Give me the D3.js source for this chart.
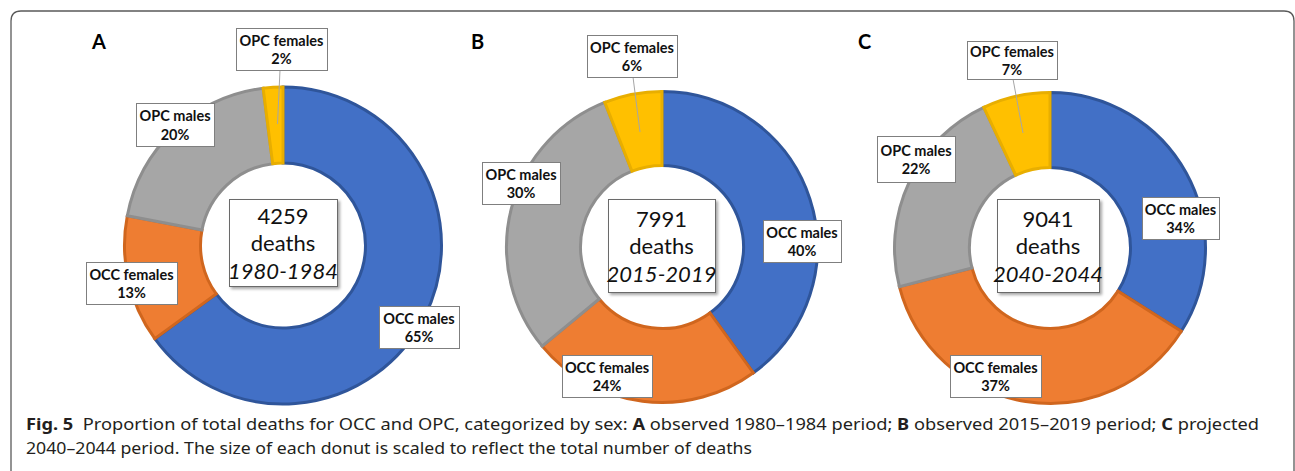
<!DOCTYPE html>
<html>
<head>
<meta charset="utf-8">
<script src="https://cdn.jsdelivr.net/npm/d3@7"></script>
<style>
  html, body { margin: 0; padding: 0; background: #fff; }
  svg { display: block; }
</style>
</head>
<body>
<svg id="chart" width="1295" height="471"></svg>
<script>
// ---------------- DATA ----------------
const categories = ["OCC males", "OCC females", "OPC males", "OPC females"];
const panelLetters = ["A", "B", "C"];
const periods = ["1980-1984", "2015-2019", "2040-2044"];
const totalDeaths = [4259, 7991, 9041];
const sharesA = [65, 13, 20, 2];
const sharesB = [40, 24, 30, 6];
const sharesC = [34, 37, 22, 7];
const shares = [sharesA, sharesB, sharesC];
const captionLine1 = [
  {t: "Fig. 5", b: true}, {t: "  Proportion of total deaths for OCC and OPC, categorized by sex: ", b: false},
  {t: "A", b: true}, {t: " observed 1980–1984 period; ", b: false},
  {t: "B", b: true}, {t: " observed 2015–2019 period; ", b: false},
  {t: "C", b: true}, {t: " projected", b: false}
];
const captionLine2 = "2040–2044 period. The size of each donut is scaled to reflect the total number of deaths";

// ---------------- LAYOUT / STYLE ----------------
const fills = ["#4270C6", "#EE7D32", "#A6A6A6", "#FFC000"];
const lights = ["#4A7DD6", "#F7893E", "#B3B3B3", "#FFCA1F"];
const edges = ["#2F559A", "#D0661E", "#8E8E8E", "#E8AE00"];

const panels = [
  {cx: 283, cy: 245.5, R: 160, r: 81, letter: [92, 49],
   center: [229, 199, 108, 87],
   boxes: [[379, 306, 80, 42], [86, 262, 91, 42], [136, 103, 78, 43], [236, 28, 91, 42]],
   leader: [[280, 70], [277.5, 124]]},
  {cx: 662, cy: 247, R: 157, r: 80, letter: [471, 49],
   center: [608, 199, 107, 93],
   boxes: [[763, 220, 78, 42], [562, 355, 90, 42], [482, 162, 78, 42], [587, 35, 90, 42]],
   leader: [[633, 77], [640, 132]]},
  {cx: 1050, cy: 248, R: 157, r: 79, letter: [858, 49],
   center: [997, 199, 102, 93],
   boxes: [[1142, 197, 77, 42], [950, 355, 91, 42], [877, 136, 78, 46], [967, 41, 90, 38]],
   leader: [[1013, 79], [1023, 133]]}
];

const svg = d3.select("#chart");
const defs = svg.append("defs");

// drop shadow for centre boxes
const f = defs.append("filter").attr("id", "shadow").attr("x", "-20%").attr("y", "-20%").attr("width", "150%").attr("height", "150%");
f.append("feDropShadow").attr("dx", 2).attr("dy", 2).attr("stdDeviation", 1.8)
  .attr("flood-color", "#000").attr("flood-opacity", 0.35);

// frame
svg.append("path")
  .attr("d", "M11,471 L11,21 Q11,11 21,11 L1284,11 Q1294,11 1294,21 L1294,471")
  .attr("fill", "none").attr("stroke", "#5a5a5a").attr("stroke-width", 1.3);

const pie = d3.pie().sort(null).value(d => d);

panels.forEach((p, i) => {
  const g = svg.append("g");
  // gradients
  fills.forEach((c, k) => {
    const gr = defs.append("radialGradient").attr("id", `g${i}_${k}`)
      .attr("gradientUnits", "userSpaceOnUse")
      .attr("cx", p.cx).attr("cy", p.cy).attr("r", p.R);
    const o0 = p.r / p.R;
    gr.append("stop").attr("offset", o0).attr("stop-color", c);
    gr.append("stop").attr("offset", o0 + (1 - o0) * 0.5).attr("stop-color", lights[k]);
    gr.append("stop").attr("offset", 1).attr("stop-color", c);
  });

  const arc = d3.arc().innerRadius(p.r + 1.5).outerRadius(p.R - 1.5);
  const arcs = pie(shares[i]);
  g.selectAll("path.slice").data(arcs).join("path")
    .attr("class", "slice")
    .attr("transform", `translate(${p.cx},${p.cy})`)
    .attr("d", arc)
    .attr("fill", (d, k) => `url(#g${i}_${k})`)
    .attr("stroke", (d, k) => edges[k])
    .attr("stroke-width", 3)
    .attr("stroke-linejoin", "miter");

  // leader line for OPC females
  g.append("line")
    .attr("x1", p.leader[0][0]).attr("y1", p.leader[0][1])
    .attr("x2", p.leader[1][0]).attr("y2", p.leader[1][1])
    .attr("stroke", "#a6a6a6").attr("stroke-width", 1);

  // panel letter
  svg.append("text").attr("x", p.letter[0]).attr("y", p.letter[1])
    .attr("font-family", "Lato, 'Open Sans', sans-serif").attr("font-weight", 700)
    .attr("font-size", 20).attr("fill", "#000").text(panelLetters[i]);

  // category labels
  arcs.forEach((a, k) => {
    const [bx, by, bw, bh] = p.boxes[k];
    g.append("rect").attr("x", bx + 0.5).attr("y", by + 0.5).attr("width", bw).attr("height", bh)
      .attr("fill", "#fff").attr("stroke", "#7f7f7f").attr("stroke-width", 1);
    const t = g.append("text").attr("text-anchor", "middle")
      .attr("font-family", "Lato, 'Open Sans', sans-serif").attr("font-weight", 700)
      .attr("font-size", 14.5).attr("fill", "#111");
    const mx = bx + bw / 2, my = by + bh / 2;
    t.append("tspan").attr("x", mx).attr("y", my - 3.5).text(categories[k]);
    t.append("tspan").attr("x", mx).attr("y", my + 15).text(shares[i][k] + "%");
  });

  // centre box
  const [cx0, cy0, cw, ch] = p.center;
  g.append("rect").attr("x", cx0 + 0.5).attr("y", cy0 + 0.5).attr("width", cw).attr("height", ch)
    .attr("fill", "#fff").attr("stroke", "#6b6b6b").attr("stroke-width", 1)
    .attr("filter", "url(#shadow)");
  const mx = cx0 + cw / 2, my = cy0 + ch / 2;
  const ct = g.append("text").attr("text-anchor", "middle")
    .attr("font-family", "Lato, 'Open Sans', sans-serif").attr("font-size", 22).attr("fill", "#111");
  ct.append("tspan").attr("x", mx).attr("y", my - 19).text(totalDeaths[i]);
  ct.append("tspan").attr("x", mx).attr("y", my + 8.5).text("deaths");
  ct.append("tspan").attr("x", mx).attr("y", my + 36).attr("font-style", "italic").text(periods[i]);
});

// caption
const cap1 = svg.append("text").attr("x", 26).attr("y", 430)
  .attr("font-family", "'Noto Sans', 'Open Sans', sans-serif").attr("font-size", 16)
  .attr("fill", "#231f20").attr("textLength", 1233).attr("lengthAdjust", "spacingAndGlyphs")
  .attr("xml:space", "preserve");
captionLine1.forEach(s => cap1.append("tspan").attr("font-weight", s.b ? 700 : 400).text(s.t));
svg.append("text").attr("x", 26).attr("y", 454)
  .attr("font-family", "'Noto Sans', 'Open Sans', sans-serif").attr("font-size", 16)
  .attr("fill", "#231f20").attr("textLength", 726).attr("lengthAdjust", "spacingAndGlyphs")
  .text(captionLine2);
</script>
</body>
</html>
